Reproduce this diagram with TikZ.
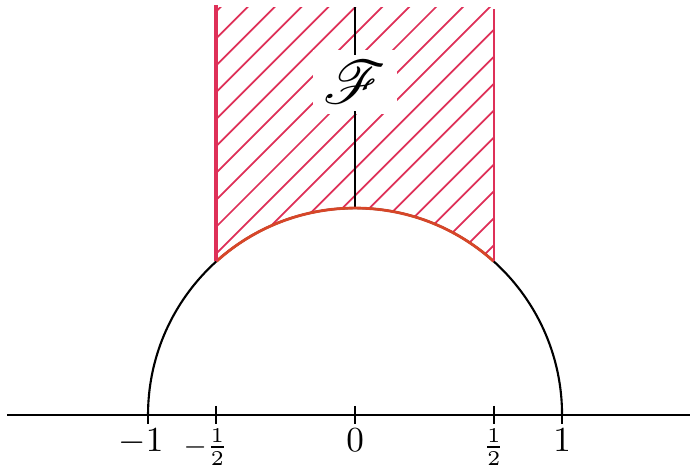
\documentclass[tikz,border=0pt]{standalone}
\usepackage{amsmath,amssymb,mathrsfs}
\usetikzlibrary{arrows.meta}
\definecolor{hatchred}{RGB}{222,48,88}
\definecolor{arcred}{RGB}{215,70,40}

\begin{document}
\begin{tikzpicture}[>=Latex,scale=2.07,line width=0.6pt]
\useasboundingbox (-1.715,-0.256) rectangle (1.618,2.005);
\begin{scope}
\clip (-0.67,1.97) -- (-0.67,0.742) arc (132.07:47.93:1) -- (0.67,1.97) -- cycle;
\foreach \c in {-2.62,-2.49,...,0.05} {
  \draw[hatchred, line width=0.5pt] (\c,0) -- ++(2.3,2.3);
}
\end{scope}
\node[fill=white, inner sep=3pt] (F) at (0,1.61) {\LARGE $\mathscr{F}$};
\draw (0,1) -- (0,1.47);
\draw (0,1.74) -- (0,1.97);
\draw (-1,0) arc (180:0:1);
\draw[arcred, line width=0.8pt] (132.07:1) arc (132.07:47.93:1);
\draw[hatchred, line width=1.1pt] (-0.67,0.742) -- (-0.67,1.98);
\draw[hatchred, line width=0.7pt] (0.67,0.742) -- (0.67,1.96);
\draw (-1.68,0) -- (1.618,0);
\foreach \x/\l/\s in {-1/-1/-2pt, 0/0/0pt, 1/1/0pt} {
  \draw (\x,0.045) -- (\x,-0.045) node[below=0pt, inner sep=1pt, xshift=\s]{$\l$};
}
\foreach \x/\l/\s in {-0.67/-\frac{1}{2}/-3pt, 0.67/\frac{1}{2}/0pt} {
  \draw (\x,0.045) -- (\x,-0.045) node[below=0pt, inner sep=1pt, xshift=\s]{\footnotesize $\l$};
}
\end{tikzpicture}
\end{document}
